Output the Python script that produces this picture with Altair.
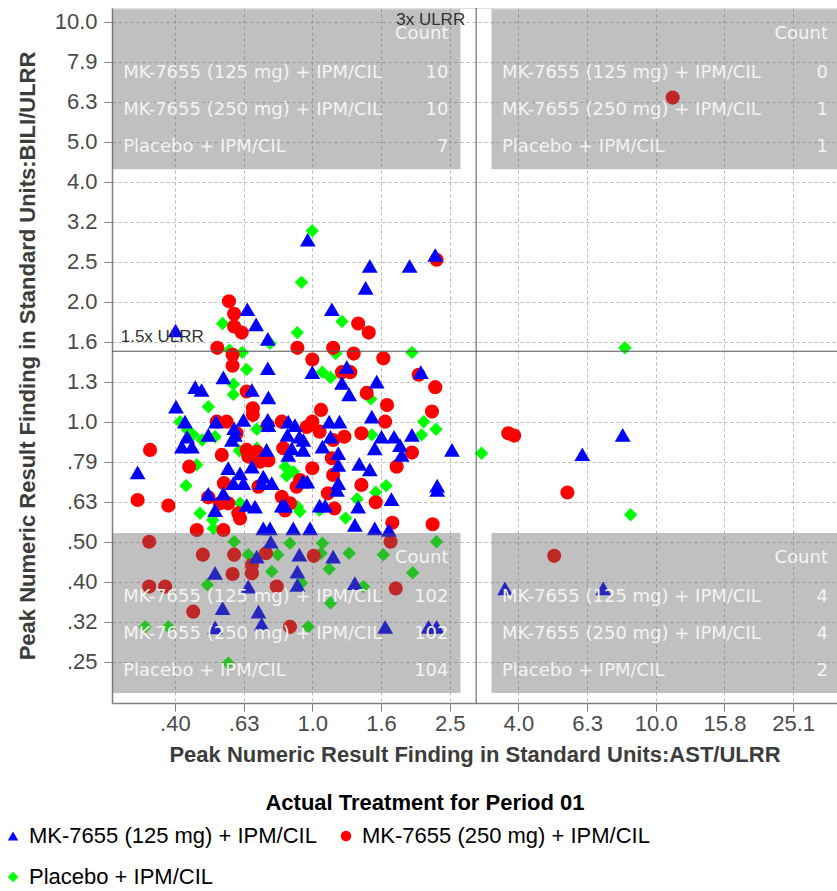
import altair as alt
import pandas as pd

# Treatment groups, drawing styles per group
treatments = ["MK-7655 (125 mg) + IPM/CIL", "MK-7655 (250 mg) + IPM/CIL", "Placebo + IPM/CIL"]
group_colors = ["#0000ff", "#ff0000", "#00ff00"]
group_shapes = ["triangle-up", "circle", "diamond"]
group_sizes = [250, 200, 180]

# Peak AST/ULRR and BILI/ULRR per subject, one list of (ast, bili) per group
mk125 = [
    (0.97, 2.85), (2.28, 2.61), (1.47, 2.45), (1.92, 2.45), (1.43, 2.16), (0.647, 1.91), (1.14, 1.91),
    (0.686, 1.75), (0.40, 1.69), (0.742, 1.61), (0.742, 1.36), (1.0, 1.33), (1.26, 1.37), (2.07, 1.33),
    (1.54, 1.26), (1.22, 1.25), (1.28, 1.17), (1.49, 1.03), (1.95, 0.927), (1.73, 0.917), (1.80, 0.874),
    (1.82, 0.826), (1.59, 0.917), (1.52, 0.858), (2.55, 0.85), (1.37, 0.784), (1.47, 0.76), (2.31, 0.692),
    (2.31, 0.675), (1.70, 0.64), (1.36, 0.613), (1.33, 0.552), (1.52, 0.541), (1.67, 0.536), (1.12, 1.0),
    (1.20, 1.0), (1.13, 0.917), (1.07, 0.866), (1.19, 0.834), (1.19, 0.78), (1.19, 0.702), (1.18, 0.675),
    (1.05, 0.617), (1.09, 0.617), (0.851, 1.0), (0.89, 0.98), (0.846, 0.927), (0.917, 0.917), (0.942, 0.90),
    (0.871, 0.858), (0.94, 0.85), (0.851, 0.826), (0.938, 0.708), (0.967, 0.708), (0.815, 0.617),
    (0.833, 0.617), (0.736, 0.85), (0.745, 0.98), (0.742, 1.01), (0.72, 0.729), (0.712, 0.702),
    (0.762, 0.702), (0.667, 0.772), (0.63, 1.01), (0.667, 1.20), (0.745, 1.15), (0.551, 1.29),
    (0.592, 0.963), (0.595, 0.927), (0.583, 0.90), (0.524, 1.0), (0.569, 0.765), (0.616, 0.743),
    (0.589, 0.702), (0.63, 0.702), (0.551, 0.662), (0.644, 0.619), (0.681, 0.613), (0.521, 0.601),
    (0.498, 0.66), (0.401, 1.09), (0.426, 1.0), (0.456, 1.22), (0.476, 1.20), (0.432, 0.917),
    (0.417, 0.866), (0.446, 0.866), (0.498, 0.927), (0.31, 0.747), (0.72, 0.541), (0.753, 0.541),
    (0.88, 0.541), (0.985, 0.541), (0.757, 0.501), (0.689, 0.46), (0.917, 0.465), (1.15, 0.46),
    (0.521, 0.419), (0.905, 0.422), (0.651, 0.387), (0.905, 0.391), (1.33, 0.395), (0.548, 0.342),
    (0.697, 0.335), (0.521, 0.306), (0.712, 0.312), (1.63, 0.307), (2.18, 0.307), (2.30, 0.307),
    (3.64, 0.383), (7.03, 0.383), (6.11, 0.829), (8.01, 0.927),
]
mk250 = [
    (2.30, 2.54), (0.572, 2.0), (0.592, 1.86), (1.36, 1.76), (0.592, 1.73), (0.623, 1.67), (1.46, 1.67),
    (0.529, 1.53), (0.586, 1.47), (0.905, 1.53), (1.15, 1.53), (1.32, 1.48), (1.61, 1.44), (1.0, 1.43),
    (0.586, 1.38), (1.22, 1.33), (1.29, 1.33), (2.04, 1.31), (2.28, 1.22), (1.44, 1.18), (1.65, 1.10),
    (1.63, 1.0), (2.23, 1.06), (1.95, 0.837), (1.39, 0.935), (1.76, 0.772), (1.39, 0.695), (2.24, 0.554),
    (1.53, 0.629), (1.71, 0.559), (1.06, 1.07), (1.0, 1.0), (1.05, 0.944), (1.24, 0.917), (1.15, 0.90),
    (1.14, 0.81), (1.15, 0.736), (1.11, 0.662), (1.16, 0.607), (0.815, 1.0), (0.963, 0.97), (0.823, 0.858),
    (1.0, 0.765), (0.921, 0.715), (0.90, 0.688), (0.815, 0.649), (0.833, 0.60), (0.861, 0.625),
    (0.742, 0.98), (0.704, 0.794), (0.745, 0.80), (0.697, 0.688), (0.689, 0.841), (0.644, 0.85),
    (0.651, 0.818), (0.671, 1.08), (0.671, 1.04), (0.644, 1.19), (0.602, 0.935), (0.527, 1.0),
    (0.563, 1.0), (0.545, 0.826), (0.553, 0.702), (0.569, 0.625), (0.609, 0.59), (0.616, 0.573),
    (0.538, 0.625), (0.498, 0.647), (0.551, 0.536), (0.461, 0.536), (0.337, 0.85), (0.438, 0.772),
    (0.31, 0.637), (0.381, 0.617), (0.335, 0.501), (1.69, 0.501), (0.48, 0.465), (0.592, 0.465),
    (0.733, 0.469), (1.01, 0.462), (0.667, 0.438), (0.586, 0.416), (0.667, 0.418), (0.335, 0.387),
    (0.373, 0.387), (0.788, 0.387), (1.75, 0.383), (0.45, 0.335), (0.861, 0.307),
    (3.72, 0.935), (3.87, 0.923), (5.53, 0.665), (5.06, 0.462), (11.2, 6.46),
]
placebo = [
    (1.0, 3.0), (0.93, 2.23), (0.548, 1.76), (1.22, 1.78), (0.904, 1.67), (0.753, 1.57), (0.574, 1.51),
    (0.625, 1.49), (1.17, 1.48), (1.95, 1.49), (0.644, 1.35), (1.07, 1.33), (1.13, 1.29), (1.48, 1.14),
    (2.11, 1.0), (2.29, 0.957), (2.08, 0.927), (1.49, 0.927), (1.64, 0.692), (1.53, 0.666), (1.35, 0.641),
    (1.25, 0.574), (1.05, 0.601), (0.833, 0.772), (0.88, 0.75), (0.842, 0.732), (0.905, 0.613),
    (0.92, 0.596), (0.689, 0.858), (0.689, 0.957), (0.589, 1.24), (0.589, 1.17), (0.613, 0.846),
    (0.616, 0.625), (0.471, 0.59), (0.513, 0.568), (0.412, 1.0), (0.498, 1.09), (0.433, 0.953),
    (0.45, 0.927), (0.521, 0.917), (0.478, 0.90), (0.461, 0.78), (0.429, 0.692), (0.515, 0.541),
    (0.592, 0.501), (0.861, 0.497), (1.07, 0.497), (2.30, 0.501), (0.651, 0.465), (0.793, 0.465),
    (1.06, 0.469), (1.28, 0.469), (1.61, 0.465), (0.762, 0.422), (1.12, 0.428), (1.96, 0.419),
    (0.495, 0.391), (0.93, 0.395), (1.41, 0.387), (1.13, 0.352), (0.326, 0.307), (0.381, 0.307),
    (0.973, 0.307), (0.569, 0.249), (3.11, 0.834), (8.13, 1.53), (8.45, 0.585),
]

# Axis tick values (multiples of 10^0.2 on AST, 10^0.1 on BILI)
ast_ticks = [0.3981, 0.6310, 1.0, 1.5849, 2.5119, 3.9811, 6.3096, 10.0, 15.8489, 25.1189]
bili_ticks = [0.2512, 0.3162, 0.3981, 0.5012, 0.6310, 0.7943, 1.0, 1.2589, 1.5849, 1.9953,
              2.5119, 3.1623, 3.9811, 5.0119, 6.3096, 7.9433, 10.0]

# Reference limits and subject counts per quadrant (order follows treatments)
ast_limit = 3.0
bili_limit = 1.5
count_upper_left = [10, 10, 7]
count_upper_right = [0, 1, 1]
count_lower_left = [102, 102, 104]
count_lower_right = [4, 4, 2]

# ---- layout ----
W, H = 725, 695
PAD_L, PAD_T = 112, 8
x_domain = [0.2611, 33.7]
y_domain = [0.198, 10.82]
LABEL_FONT = "Liberation Sans, Arial, sans-serif"
TABLE_FONT = "DejaVu Sans, Verdana, sans-serif"
tick_fmt = "datum.value < 0.999 ? substring(format(datum.value, '.2f'), 1) : format(datum.value, '.1f')"

# scatter data, drawn placebo first so the MK-7655 markers sit on top
records = []
for gi in [2, 1, 0]:
    pts = [mk125, mk250, placebo][gi]
    for ast, bili in pts:
        records.append({"ast": ast, "bili": bili, "treatment": treatments[gi],
                        "msize": group_sizes[gi]})
points_df = pd.DataFrame(records)

axis_common = dict(
    grid=True, gridDash=[3, 3], gridColor="#b8b8b8", gridWidth=1,
    domainColor="#7f7f7f", domainWidth=1.5, tickColor="#7f7f7f", tickSize=8,
    labelFont=LABEL_FONT, labelFontSize=22, labelColor="#4a4a4a",
    titleFont=LABEL_FONT, titleFontSize=22, titleFontWeight="bold", titleColor="#3c3c3c",
    labelExpr=tick_fmt, labelOverlap=False, labelFlush=False,
)

legend_cfg = alt.Legend(
    title=None, orient="none", legendX=-110, legendY=817, columns=2, direction="horizontal",
    symbolSize=110, symbolStrokeWidth=0, labelFont=LABEL_FONT, labelFontSize=22,
    labelColor="#000000", labelOffset=5, columnPadding=18, rowPadding=19, labelLimit=500,
    padding=0,
)

points = alt.Chart(points_df).mark_point(filled=True, opacity=1).encode(
    x=alt.X("ast:Q", scale=alt.Scale(type="log", domain=x_domain, nice=False),
            axis=alt.Axis(values=ast_ticks, title="Peak Numeric Result Finding in Standard Units:AST/ULRR",
                          labelPadding=2, titlePadding=10, **axis_common)),
    y=alt.Y("bili:Q", scale=alt.Scale(type="log", domain=y_domain, nice=False),
            axis=alt.Axis(values=bili_ticks, title="Peak Numeric Result Finding in Standard Units:BILI/ULRR",
                          labelPadding=7, titlePadding=15, **axis_common)),
    color=alt.Color("treatment:N", scale=alt.Scale(domain=treatments, range=group_colors), legend=legend_cfg),
    shape=alt.Shape("treatment:N", scale=alt.Scale(domain=treatments, range=group_shapes), legend=legend_cfg),
    size=alt.Size("msize:Q", scale=None, legend=None),
    order=alt.value(0),
)

# quadrant count tables (pixel geometry inside the plot area)
LEFT_X = (0.7, 348.5)
RIGHT_X = (379.5, 728.0)
TOP_Y = 1.3
BOTTOM_Y = 525.0
BOX_H = 160.0
panels = [
    (LEFT_X, TOP_Y, count_upper_left),
    (RIGHT_X, TOP_Y, count_upper_right),
    (LEFT_X, BOTTOM_Y, count_lower_left),
    (RIGHT_X, BOTTOM_Y, count_lower_right),
]
box_rows, label_rows, value_rows = [], [], []
for (x0, x1), y0, counts in panels:
    box_rows.append({"x0": x0, "x1": x1, "y0": y0, "y1": y0 + BOX_H})
    value_rows.append({"px": x1 - 12, "py": y0 + 25, "txt": "Count"})
    for i, (name, n) in enumerate(zip(treatments, counts)):
        py = y0 + 63.5 + 37 * i
        label_rows.append({"px": x0 + 10.5, "py": py, "txt": name})
        value_rows.append({"px": x1 - 12, "py": py, "txt": str(n)})

boxes = alt.Chart(pd.DataFrame(box_rows)).mark_rect(fill="#626262", opacity=0.4).encode(
    x=alt.X("x0:Q", scale=None, axis=None), x2="x1:Q",
    y=alt.Y("y0:Q", scale=None, axis=None), y2="y1:Q",
)
table_labels = alt.Chart(pd.DataFrame(label_rows)).mark_text(
    align="left", baseline="middle", font=TABLE_FONT, fontSize=18, color="#f4f4f0"
).encode(x=alt.X("px:Q", scale=None, axis=None), y=alt.Y("py:Q", scale=None, axis=None), text="txt:N")
table_values = alt.Chart(pd.DataFrame(value_rows)).mark_text(
    align="right", baseline="middle", font=TABLE_FONT, fontSize=18, color="#f4f4f0"
).encode(x=alt.X("px:Q", scale=None, axis=None), y=alt.Y("py:Q", scale=None, axis=None), text="txt:N")

# reference limit lines and their labels
vline = alt.Chart(pd.DataFrame({"ast": [ast_limit]})).mark_rule(color="#555555", strokeWidth=1).encode(x="ast:Q")
hline = alt.Chart(pd.DataFrame({"bili": [bili_limit]})).mark_rule(color="#555555", strokeWidth=1).encode(y="bili:Q")
vlabel = alt.Chart(pd.DataFrame({"ast": [ast_limit], "txt": ["3x ULRR"]})).mark_text(
    align="right", baseline="middle", dx=-11, font=LABEL_FONT, fontSize=17, color="#333333"
).encode(x="ast:Q", y=alt.value(12), text="txt:N")
hlabel = alt.Chart(pd.DataFrame({"bili": [bili_limit], "txt": ["1.5x ULRR"]})).mark_text(
    align="left", baseline="middle", dy=-14, font=LABEL_FONT, fontSize=17, color="#333333"
).encode(x=alt.value(8.7), y="bili:Q", text="txt:N")

legend_title = alt.Chart(pd.DataFrame({"txt": ["Actual Treatment for Period 01"]})).mark_text(
    align="center", baseline="middle", font=LABEL_FONT, fontSize=22, fontWeight="bold", color="#000000"
).encode(x=alt.value(313), y=alt.value(795), text="txt:N")

chart = alt.layer(
    points, boxes, vline, hline, vlabel, hlabel, table_labels, table_values, legend_title
).properties(
    width=W, height=H,
    padding={"left": PAD_L, "top": PAD_T, "right": 0, "bottom": 891 - PAD_T - H},
    autosize=alt.AutoSizeParams(type="none"),
).configure_view(stroke=None).configure(background="white")

chart.save("out.html", embed_options={"renderer": "svg", "actions": False})
